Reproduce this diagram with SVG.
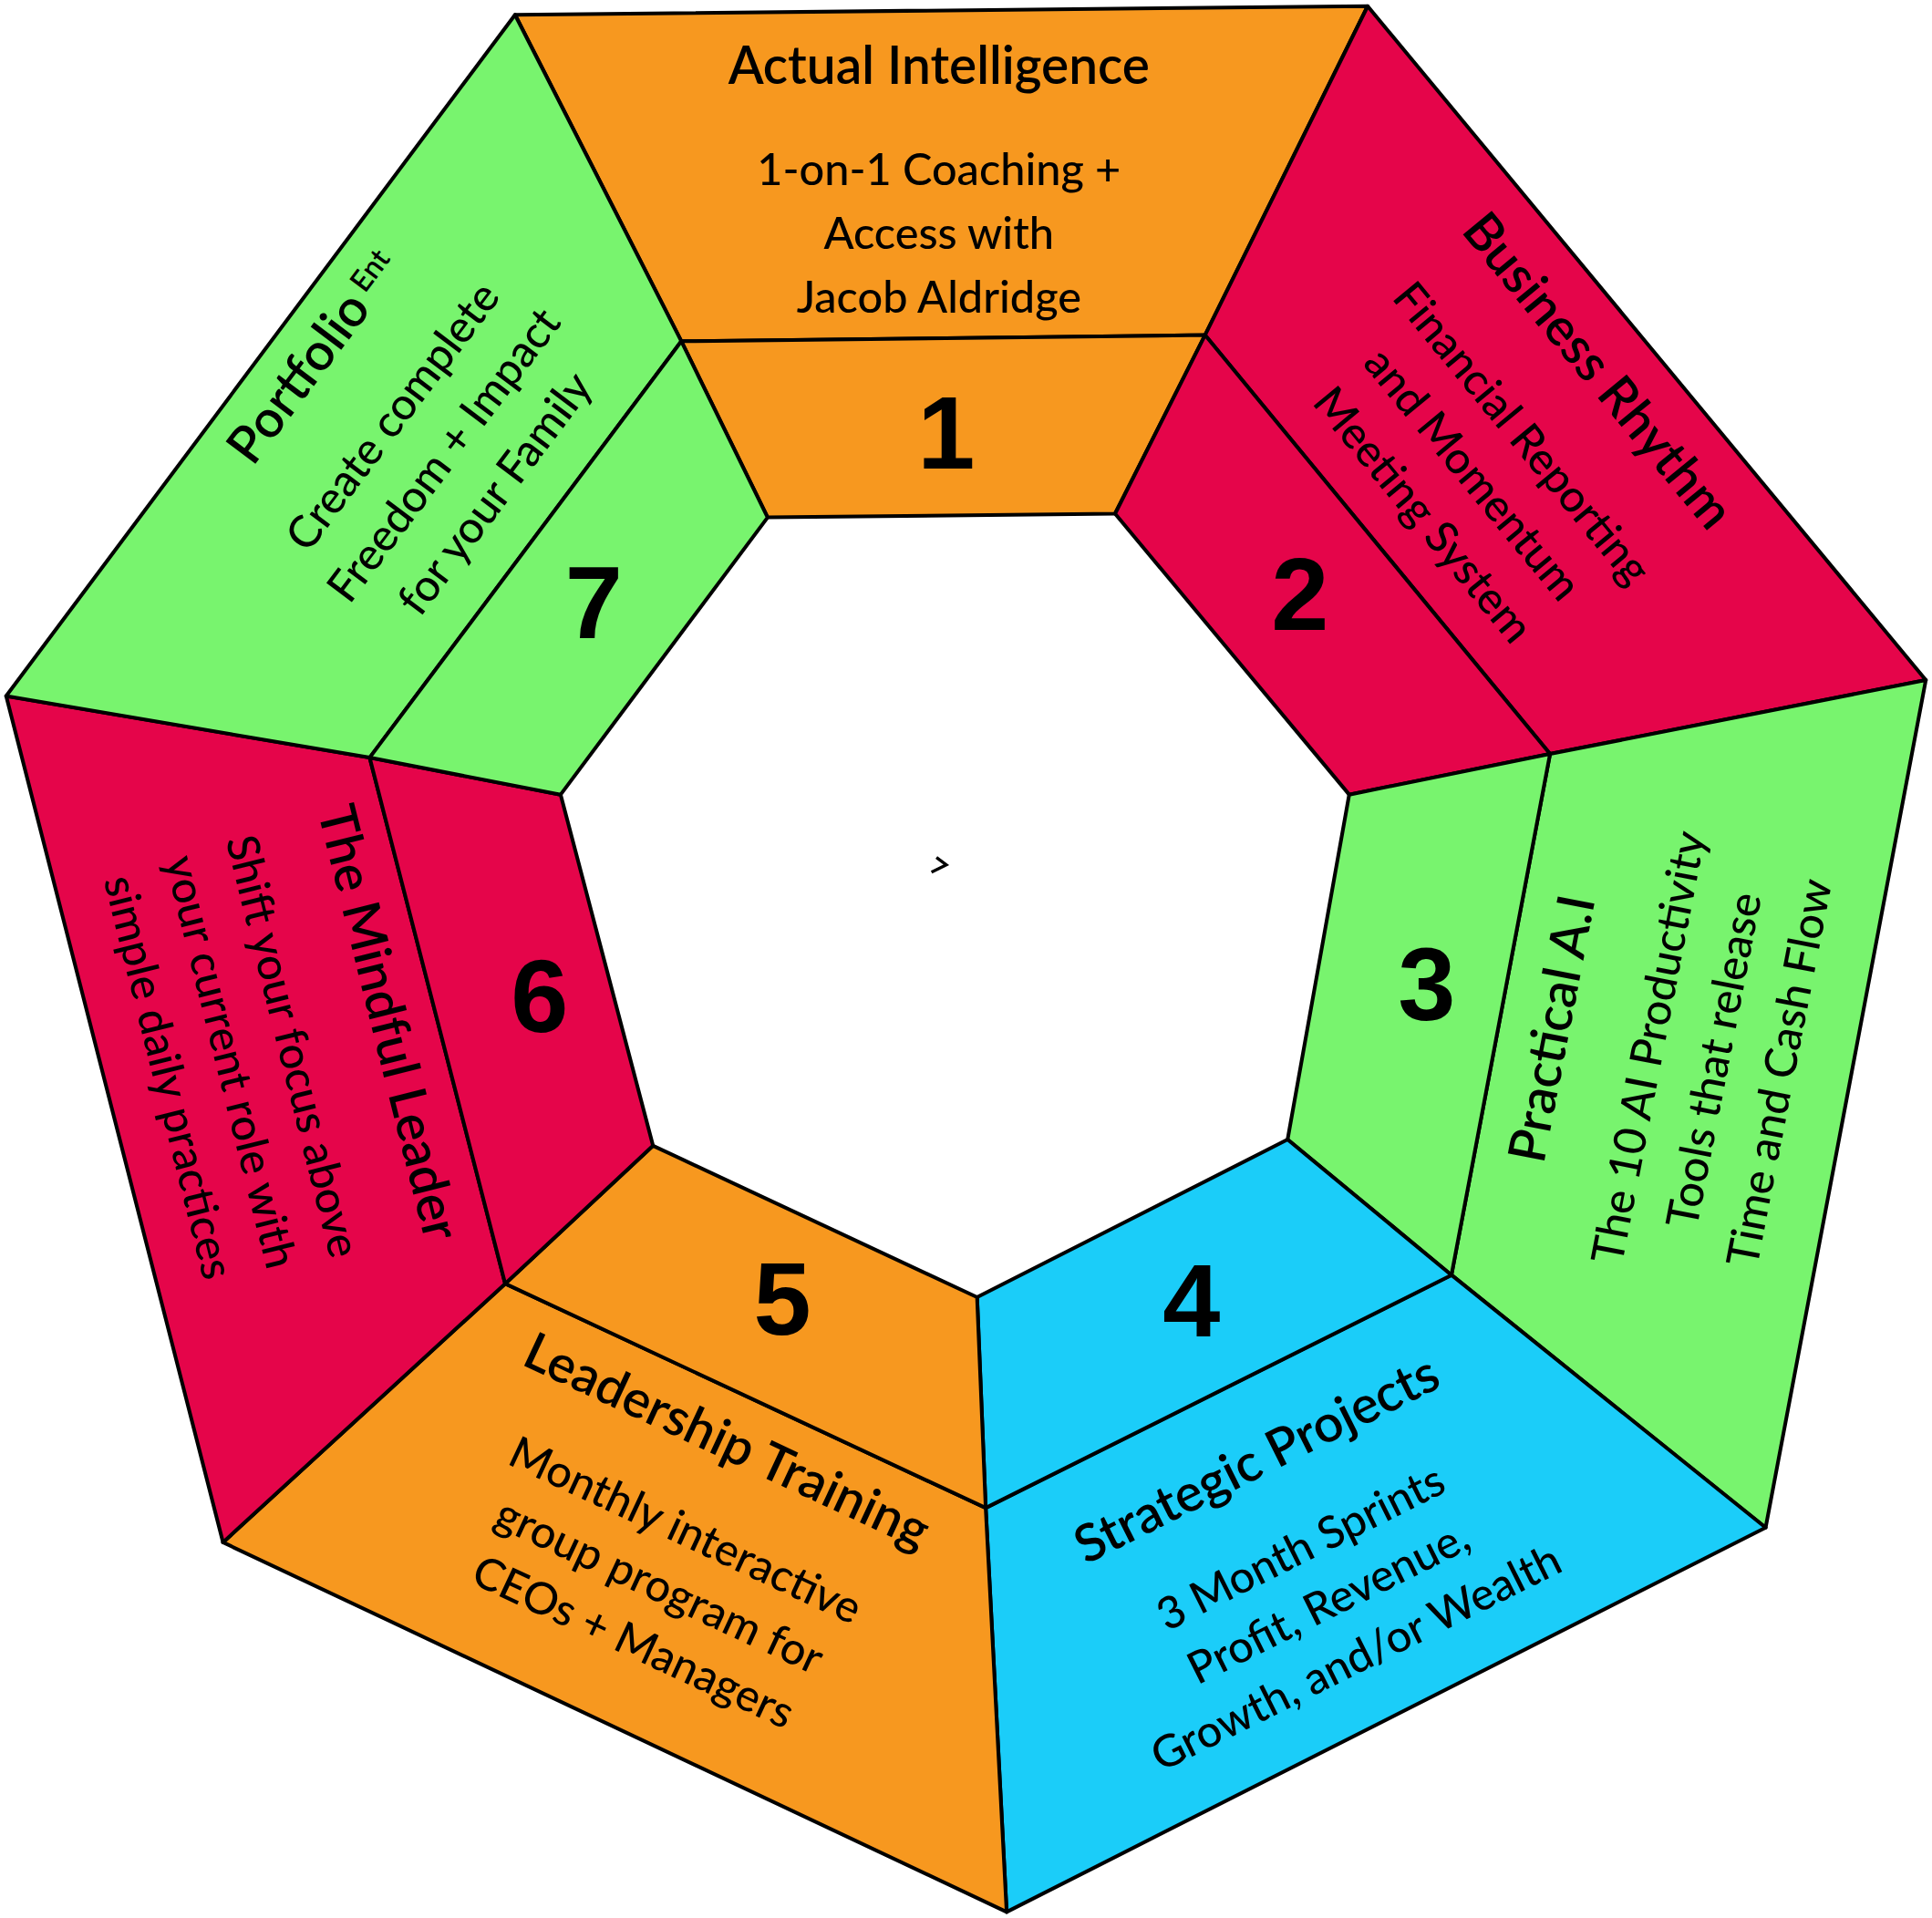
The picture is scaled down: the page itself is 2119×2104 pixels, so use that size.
<svg xmlns="http://www.w3.org/2000/svg" width="2119" height="2104" viewBox="0 0 2119 2104">
<style>
.seg{stroke:#000;stroke-width:3;stroke-linejoin:round}
.o{fill:#F7981F}.r{fill:#E5054A}.g{fill:#78F46E}.c{fill:#1BCDF9}
text{font-family:Lato,"Noto Sans","Liberation Sans",sans-serif;fill:#000;text-anchor:middle}
.t{font-size:42px;font-weight:600}
.b{font-size:36px;font-weight:500}
.n{font-size:84px;font-weight:700;font-family:"Liberation Sans",Arial,sans-serif}
</style>
<rect width="2119" height="2104" fill="#fff"/>
<g transform="scale(1.3514)">
<g id="seg1"><polygon class="seg o" points="418,12 1110,5 978,272 553,277"/><polygon class="seg o" points="553,277 978,272 905,417 623,420"/>
<text class="t" x="762" y="68">Actual Intelligence</text>
<text class="b" x="762" y="150">1-on-1 Coaching +</text><text class="b" x="762" y="202">Access with</text><text class="b" x="762" y="254">Jacob Aldridge</text>
<text class="n" x="768" y="380">1</text></g>
<g id="seg2"><polygon class="seg r" points="1110,5 1563,552 1258,612 978,272"/><polygon class="seg r" points="978,272 1258,612 1095,645 905,417"/>
<g transform="translate(1235,352) rotate(50.5)"><text class="t" y="-66">Business Rhythm</text><text class="b" y="12">Financial Reporting</text><text class="b" y="64">and Momentum</text><text class="b" y="116">Meeting System</text></g>
<text class="n" x="1055" y="511">2</text></g>
<g id="seg3"><polygon class="seg g" points="1563,552 1433,1240 1178,1035 1258,612"/><polygon class="seg g" points="1258,612 1178,1035 1045,925 1095,645"/>
<g transform="translate(1260,835) rotate(-79)"><text class="t" y="14">Practical A.I</text><text class="b" y="92">The 10 AI Productivity</text><text class="b" y="146">Tools that release</text><text class="b" y="200">Time and Cash Flow</text></g>
<text class="n" x="1158" y="828">3</text></g>
<g id="seg4"><polygon class="seg c" points="1433,1240 817,1552 800,1224 1178,1035"/><polygon class="seg c" points="1178,1035 800,1224 793,1053 1045,925"/>
<g transform="translate(1020,1185) rotate(-26.6)"><text class="t" y="14">Strategic Projects</text><text class="b" y="92">3 Month Sprints</text><text class="b" y="142">Profit, Revenue,</text><text class="b" y="192">Growth, and/or Wealth</text></g>
<text class="n" x="967" y="1085">4</text></g>
<g id="seg5"><polygon class="seg o" points="817,1552 181,1252 410,1042 800,1224"/><polygon class="seg o" points="800,1224 410,1042 530,930 793,1053"/>
<g transform="translate(590,1170) rotate(25)"><text class="t" y="14">Leadership Training</text><text class="b" y="92">Monthly interactive</text><text class="b" y="142">group program for</text><text class="b" y="192">CEOs + Managers</text></g>
<text class="n" x="635" y="1083">5</text></g>
<g id="seg6"><polygon class="seg r" points="181,1252 5,565 300,615 410,1042"/><polygon class="seg r" points="410,1042 300,615 455,645 530,930"/>
<g transform="translate(315,830) rotate(76)"><text class="t" y="14">The Mindful Leader</text><text class="b" y="92">Shift your focus above</text><text class="b" y="144">your current role with</text><text class="b" y="196">simple daily practices</text></g>
<text class="n" x="438" y="838">6</text></g>
<g id="seg7"><polygon class="seg g" points="5,565 418,12 553,277 300,615"/><polygon class="seg g" points="300,615 553,277 623,420 455,645"/>
<g transform="translate(255,290) rotate(-53)"><text class="t" y="14">Portfolio<tspan font-size="24" dx="6" dy="-12">Ent</tspan></text><text class="b" y="92">Create complete</text><text class="b" y="144">Freedom + Impact</text><text class="b" y="196">for your Family</text></g>
<text class="n" x="482" y="518">7</text></g>
<g id="connectors"><path d="M760,696 L768,702 L762,705 L756,708" fill="none" stroke="#000" stroke-width="2.5"/></g>
</g>
</svg>
